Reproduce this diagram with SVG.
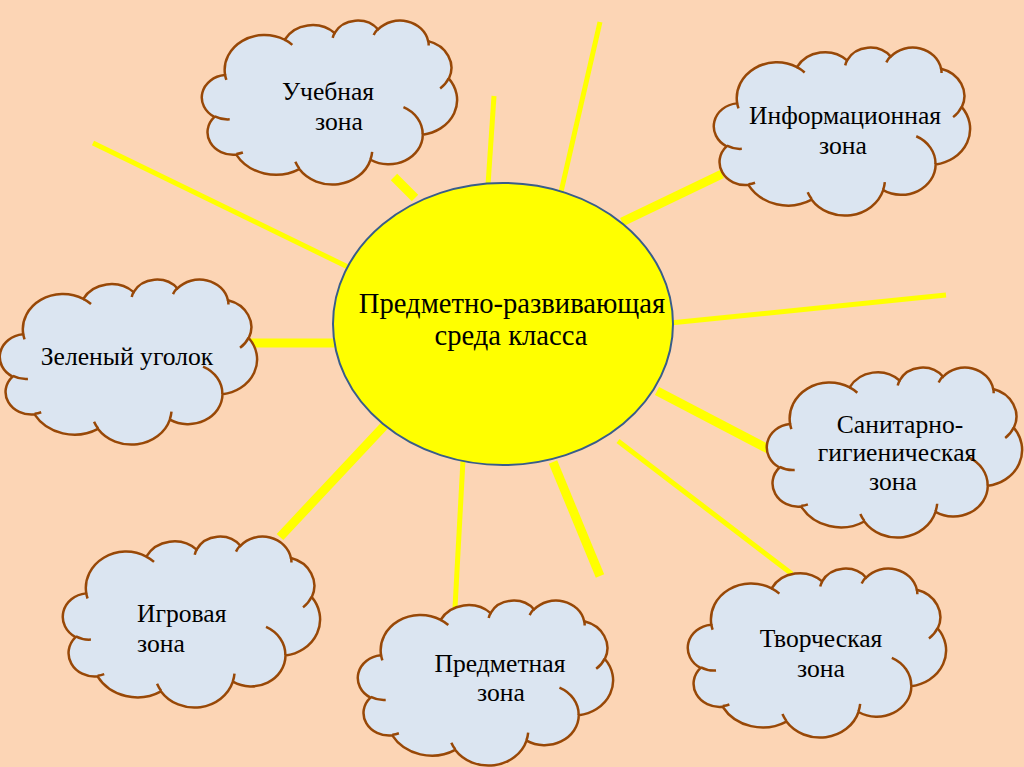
<svg xmlns="http://www.w3.org/2000/svg" xmlns:xlink="http://www.w3.org/1999/xlink" width="1024" height="767" viewBox="0 0 1024 767">
<style>
.cl{fill:#DBE5F1;stroke:#984807;stroke-width:2.5;vector-effect:non-scaling-stroke}
.cli{fill:none;stroke:#984807;stroke-width:2.5;vector-effect:non-scaling-stroke}
.ray{stroke:#FFFF00;stroke-linecap:butt}
.thin{stroke-width:5}
.thick{stroke-width:9}
.t{font-family:"Liberation Serif","Times New Roman",serif;font-size:25.6px;fill:#000}
.c{text-anchor:middle}
.big{font-size:28.6px}
</style>
<defs>
<g id="cloudShape">
<path class="cl" d="M39,143.7 A67.53,91.9 0 0 1 140.05,52.01 A53.33,72.67 0 0 1 224.56,34.31 A43.65,59.45 0 0 1 298.31,24.79 A48.57,65.95 0 0 1 383.16,55.73 A53.33,72.73 0 0 1 418.17,154.57 A67.75,92.2 0 0 1 374.03,302.01 A57.85,78.67 0 0 1 285.53,368.09 A67.52,92.15 0 0 1 164.78,392.59 A77.2,105.43 0 0 1 58.01,354.65 A43.6,59.18 0 0 1 21.12,255.41 A43.45,59.45 0 0 1 38.62,144.97 Z"/>
<path class="cli" d="M46.93,261.77 A43.45,59.45 0 0 1 21.59,253.8 M69.28,348.99 A43.6,59.18 0 0 1 58.19,352.81 M164.78,390.9 A67.52,92.15 0 0 1 158.1,373.5 M288.27,347.51 A67.52,92.15 0 0 1 285.6,366.6 M341.29,229.54 A57.85,78.67 0 0 1 373.81,300.89 M417.98,153.54 A53.33,72.73 0 0 1 403.49,180.31 M383.24,54.26 A48.57,65.95 0 0 1 384,66.91 M290.78,39.52 A48.57,65.95 0 0 1 298.21,23.39 M221.41,47.2 A43.65,59.45 0 0 1 225,33.31 M140,51.92 A67.53,91.9 0 0 1 153.01,65.42 M41.27,157.89 A67.53,91.9 0 0 1 39,143.71"/>
</g>
</defs>
<rect x="0" y="0" width="1024" height="767" fill="#FCD5B5"/>
<g id="connectors">
<line class="ray thin" x1="93" y1="143" x2="350" y2="268"/>
<line class="ray thick" x1="394" y1="177" x2="415" y2="198"/>
<line class="ray thin" x1="494" y1="96" x2="488" y2="185"/>
<line class="ray thin" x1="600" y1="22" x2="561" y2="192"/>
<line class="ray thick" x1="622" y1="222" x2="722" y2="174"/>
<line class="ray thin" x1="670" y1="323" x2="946" y2="295"/>
<line class="ray thick" x1="657" y1="391" x2="772" y2="451"/>
<line class="ray thin" x1="618" y1="441" x2="792" y2="574"/>
<line class="ray thick" x1="553" y1="462" x2="600" y2="576"/>
<line class="ray thin" x1="463" y1="460" x2="455" y2="608"/>
<line class="ray thick" x1="385" y1="425" x2="280" y2="537"/>
<line class="ray thick" x1="248" y1="343" x2="337" y2="343"/>
</g>
<g id="center">
<ellipse cx="503" cy="324" rx="170" ry="141" fill="#FFFF00" stroke="#385D8A" stroke-width="2"/>
<text class="t c big" x="512" y="313">Предметно-развивающая</text>
<text class="t c big" x="511" y="345">среда класса</text>
</g>
<g id="uchebnaya">
<use xlink:href="#cloudShape" transform="translate(202,20) scale(0.5903,0.3796)"/>
<text class="t c" x="328" y="100">Учебная</text>
<text class="t c" x="339" y="130">зона</text>
</g>
<g id="informacionnaya">
<use xlink:href="#cloudShape" transform="translate(714,47) scale(0.5926,0.3889)"/>
<text class="t c" x="845" y="124">Информационная</text>
<text class="t c" x="843" y="154">зона</text>
</g>
<g id="zelenyi">
<use xlink:href="#cloudShape" transform="translate(0,279) scale(0.5949,0.3819)"/>
<text class="t c" x="127" y="365">Зеленый уголок</text>
</g>
<g id="sanitarno">
<use xlink:href="#cloudShape" transform="translate(767,367) scale(0.5903,0.3935)"/>
<text class="t c" x="900" y="433">Санитарно-</text>
<text class="t c" x="897" y="461">гигиеническая</text>
<text class="t c" x="893" y="490">зона</text>
</g>
<g id="predmetnaya">
<use xlink:href="#cloudShape" transform="translate(358,600) scale(0.5903,0.3819)"/>
<text class="t c" x="500" y="672">Предметная</text>
<text class="t c" x="501" y="701">зона</text>
</g>
<g id="igrovaya">
<use xlink:href="#cloudShape" transform="translate(63,536) scale(0.5949,0.3958)"/>
<text class="t" x="137" y="622">Игровая</text>
<text class="t" x="137" y="652">зона</text>
</g>
<g id="tvorcheskaya">
<use xlink:href="#cloudShape" transform="translate(688,568) scale(0.5972,0.3912)"/>
<text class="t c" x="821" y="647">Творческая</text>
<text class="t c" x="821" y="677">зона</text>
</g>
</svg>
